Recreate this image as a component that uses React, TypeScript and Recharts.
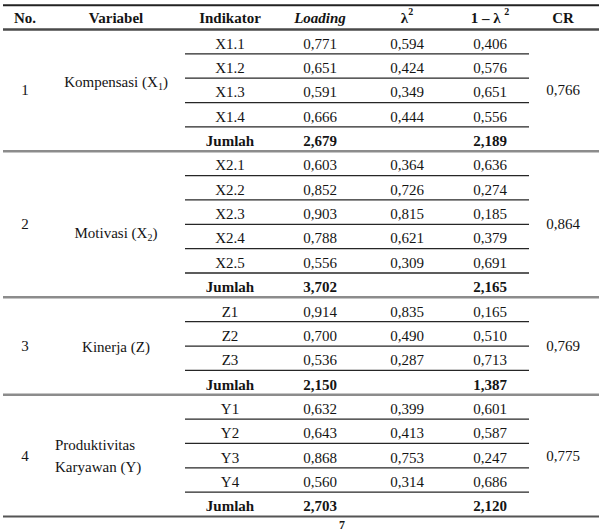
import { ComposedChart, XAxis, YAxis, Scatter, ReferenceLine } from 'recharts';

// table content
const nomor = ['1', '2', '3', '4'];
const variabel = ['Kompensasi (X|1|)', 'Motivasi (X|2|)', 'Kinerja (Z)', 'Produktivitas\nKaryawan (Y)'];
const indikator = [
  ['X1.1', 'X1.2', 'X1.3', 'X1.4'],
  ['X2.1', 'X2.2', 'X2.3', 'X2.4', 'X2.5'],
  ['Z1', 'Z2', 'Z3'],
  ['Y1', 'Y2', 'Y3', 'Y4'],
];
const loading = [
  [0.771, 0.651, 0.591, 0.666],
  [0.603, 0.852, 0.903, 0.788, 0.556],
  [0.914, 0.700, 0.536],
  [0.632, 0.643, 0.868, 0.560],
];
const lambda2 = [
  [0.594, 0.424, 0.349, 0.444],
  [0.364, 0.726, 0.815, 0.621, 0.309],
  [0.835, 0.490, 0.287],
  [0.399, 0.413, 0.753, 0.314],
];
const oneMinus = [
  [0.406, 0.576, 0.651, 0.556],
  [0.636, 0.274, 0.185, 0.379, 0.691],
  [0.165, 0.510, 0.713],
  [0.601, 0.587, 0.247, 0.686],
];
const jumlahLoading = [2.679, 3.702, 2.150, 2.703];
const jumlahOneMinus = [2.189, 2.165, 1.387, 2.120];
const cr = [0.766, 0.864, 0.769, 0.775];
const headers = ['No.', 'Variabel', 'Indikator', 'Loading', 'λ|2', '1 – λ |2', 'CR'];
const pageNo = '7';

// layout
const W = 603;
const H = 532;
const ROW_H = 24.35;
const ROW0 = 17.3;
const COL_X = [25, 116, 230, 320, 407, 490, 563];
const VAR_DY = [-8, 9, 1, 0];
const FONT = 'Liberation Serif, Times New Roman, DejaVu Serif, serif';

const fmt = (v: number) => v.toFixed(3).replace('.', ',');

type CellT = { x: number; y: number; text: string; kind: string; dy?: number; anchor?: string; size?: number };

const cells: CellT[] = [];
const hLines: { y: number; x1: number; x2: number; stroke: string; w: number }[] = [];

headers.forEach((h, i) =>
  cells.push({ x: COL_X[i], y: 0, text: h, kind: i === 3 ? 'headItalic' : 'head' }),
);
hLines.push({ y: -0.5, x1: 3, x2: 599, stroke: '#222', w: 2 });
hLines.push({ y: 0.5, x1: 3, x2: 599, stroke: '#4a4a4a', w: 2.5 });

let row = 1;
indikator.forEach((items, g) => {
  const start = row;
  items.forEach((name, i) => {
    const r = start + i;
    cells.push({ x: COL_X[2], y: r, text: name, kind: 'body' });
    cells.push({ x: COL_X[3], y: r, text: fmt(loading[g][i]), kind: 'body' });
    cells.push({ x: COL_X[4], y: r, text: fmt(lambda2[g][i]), kind: 'body' });
    cells.push({ x: COL_X[5], y: r, text: fmt(oneMinus[g][i]), kind: 'body' });
    hLines.push({ y: r + 0.5, x1: 185, x2: 529, stroke: '#262626', w: 1.3 });
  });
  const jr = start + items.length;
  cells.push({ x: COL_X[2], y: jr, text: 'Jumlah', kind: 'bold' });
  cells.push({ x: COL_X[3], y: jr, text: fmt(jumlahLoading[g]), kind: 'bold' });
  cells.push({ x: COL_X[5], y: jr, text: fmt(jumlahOneMinus[g]), kind: 'bold' });
  const mid = (start + jr) / 2;
  cells.push({ x: COL_X[0], y: mid, text: nomor[g], kind: 'body', dy: 0 });
  const multi = variabel[g].includes('\n');
  cells.push({
    x: multi ? 55 : COL_X[1], y: mid, text: variabel[g], kind: 'var',
    dy: VAR_DY[g], anchor: multi ? 'start' : 'middle',
  });
  cells.push({ x: COL_X[6], y: mid, text: fmt(cr[g]), kind: 'body', dy: 0 });
  const last = g === indikator.length - 1;
  hLines.push({ y: jr + 0.5, x1: 3, x2: 599, stroke: last ? '#555' : '#8c8c8c', w: last ? 2 : 2.5 });
  row = jr + 1;
});
// page number just under the table
cells.push({ x: 342, y: row - 0.15, text: pageNo, kind: 'bold', dy: 0, size: 12 });

// text with |sub| or |sup markers
const renderParts = (text: string, kind: string) => {
  const parts = text.split('|');
  if (parts.length === 1) return text;
  const sup = kind === 'head';
  return parts.map((p, i) => {
    if (i % 2 === 0) {
      return <tspan key={i} dy={i === 0 ? 0 : sup ? 7 : -4}>{p}</tspan>;
    }
    return (
      <tspan key={i} fontSize={10} dy={sup ? -7 : 4}>{p}</tspan>
    );
  });
};

const CellShape = (props: any) => {
  const { cx, cy, payload } = props;
  const p = payload as CellT;
  const bold = p.kind === 'head' || p.kind === 'headItalic' || p.kind === 'bold';
  const lines = p.text.split('\n');
  const baseDy = p.dy ?? (p.kind === 'head' || p.kind === 'headItalic' ? 0.5 : 2);
  return (
    <g>
      {lines.map((ln, i) => (
        <text
          key={i}
          x={cx}
          y={cy + baseDy + (i - (lines.length - 1) / 2) * 22}
          textAnchor={(p.anchor as any) ?? 'middle'}
          dominantBaseline="central"
          style={{
            fontFamily: FONT,
            fontSize: p.size ?? 15,
            fontWeight: bold ? 700 : 400,
            fontStyle: p.kind === 'headItalic' ? 'italic' : 'normal',
          }}
          fill="#141414"
        >
          {renderParts(ln, p.kind)}
        </text>
      ))}
    </g>
  );
};

export default function App() {
  return (
    <div style={{ position: 'absolute', left: 0, top: 0, background: '#fff' }}>
      <ComposedChart width={W} height={H} margin={{ top: 0, right: 0, bottom: 0, left: 0 }}>
        <XAxis type="number" dataKey="x" domain={[0, W]} hide />
        <YAxis
          type="number"
          dataKey="y"
          domain={[-ROW0 / ROW_H, (H - ROW0) / ROW_H]}
          reversed
          hide
          allowDataOverflow
        />
        {hLines.map((l, i) => (
          <ReferenceLine
            key={i}
            segment={[{ x: l.x1, y: l.y }, { x: l.x2, y: l.y }]}
            stroke={l.stroke}
            strokeWidth={l.w}
            ifOverflow="visible"
          />
        ))}
        <Scatter data={cells} shape={CellShape} isAnimationActive={false} />
      </ComposedChart>
    </div>
  );
}
